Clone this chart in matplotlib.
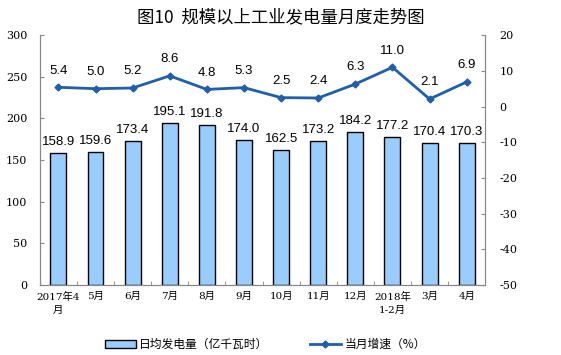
import matplotlib.pyplot as plt
import numpy as np

plt.rcParams['font.family'] = ['Liberation Sans', 'Noto Sans CJK SC']
plt.rcParams['axes.unicode_minus'] = False

# data
months = ['2017年4\n月', '5月', '6月', '7月', '8月', '9月', '10月', '11月', '12月',
          '2018年\n1-2月', '3月', '4月']
daily_output = [158.9, 159.6, 173.4, 195.1, 191.8, 174.0, 162.5, 173.2, 184.2, 177.2, 170.4, 170.3]
growth = [5.4, 5.0, 5.2, 8.6, 4.8, 5.3, 2.5, 2.4, 6.3, 11.0, 2.1, 6.9]

x = np.arange(len(months))

fig = plt.figure(figsize=(5.61, 3.55), dpi=100)
ax = fig.add_axes([0.071, 0.197, 0.794, 0.704])
ax2 = ax.twinx()

bars = ax.bar(x, daily_output, width=0.43, color='#99CCFF', edgecolor='black',
              linewidth=1.0, label='日均发电量（亿千瓦时）', zorder=2)
for xi, v in zip(x, daily_output):
    ax.text(xi, v + 6, f'{v:.1f}', ha='center', va='bottom', fontsize=9.5)

line, = ax2.plot(x, growth, color='#1F5FAD', lw=2, marker='D', markersize=3.5,
                 label='当月增速（%）', zorder=3)
for xi, v in zip(x, growth):
    ax2.text(xi, v + 3, f'{v:.1f}', ha='center', va='bottom', fontsize=9.5)

ax.set_xlim(-0.5, len(months) - 0.5)
ax.set_ylim(0, 300)
ax.set_yticks(range(0, 301, 50))
ax2.set_ylim(-50, 20)
ax2.set_yticks(range(-50, 21, 10))

ax.set_xticks(x)
ax.set_xticklabels(months, family=['DejaVu Serif', 'Noto Sans CJK SC'], fontsize=7.5,
                   linespacing=1.5)
ax.set_xticks(np.arange(-0.5, len(months)), minor=True)
ax.tick_params(axis='x', which='major', length=0, pad=5)
ax.tick_params(axis='x', which='minor', length=3, direction='in', color='#888888')
ax.tick_params(axis='y', direction='in', length=3, labelsize=8, color='#888888', pad=9)
ax2.tick_params(axis='y', direction='in', length=3, labelsize=8, color='#888888', pad=10)
for lab in ax.get_yticklabels() + ax2.get_yticklabels():
    lab.set_family('DejaVu Serif')

for a in (ax, ax2):
    a.spines['top'].set_visible(False)
    for s in ('left', 'right', 'bottom'):
        a.spines[s].set_color('#888888')

fig.suptitle('图10  规模以上工业发电量月度走势图', x=0.5, y=0.978, fontsize=12.5,
             family=['Noto Sans CJK SC'])

fig.legend([bars, line], ['日均发电量（亿千瓦时）', '当月增速（%）'],
           loc='lower center', bbox_to_anchor=(0.473, -0.018), ncol=2, frameon=False,
           columnspacing=3.5, handlelength=2.6, handletextpad=0.3,
           prop={'family': ['Noto Sans CJK SC'], 'size': 8.5})

fig.savefig('out.png', dpi=100)
